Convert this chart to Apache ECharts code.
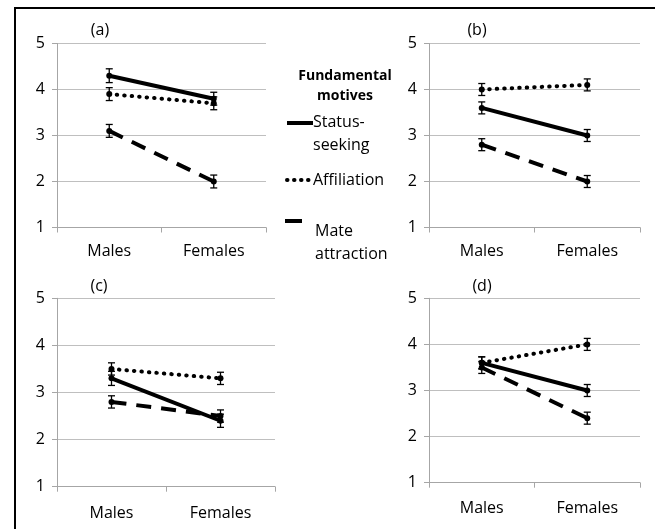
<!DOCTYPE html>
<html>
<head>
<meta charset="utf-8">
<script src="https://cdn.jsdelivr.net/npm/echarts@6/dist/echarts.min.js"></script>
<style>
  html, body { margin: 0; padding: 0; background: #fff; }
  #chart { width: 655px; height: 529px; }
</style>
</head>
<body>
<div id="chart"></div>
<script>
// Categories and panel labels
const categories = ['Males', 'Females'];
const panelTitles = ['(a)', '(b)', '(c)', '(d)'];
const yTicks = [1, 2, 3, 4, 5];

// Fundamental motives (legend labels)
const motiveNames = ['Status-seeking', 'Affiliation', 'Mate attraction'];
const legendLabels = ['Status-\nseeking', 'Affiliation', 'Mate\nattraction'];
const legendTitle = 'Fundamental\nmotives';

// Mean ratings per panel: [Males, Females]
const statusSeeking  = [[4.3, 3.8], [3.6, 3.0], [3.3, 2.4], [3.6, 3.0]];
const affiliation    = [[3.9, 3.7], [4.0, 4.1], [3.5, 3.3], [3.6, 4.0]];
const mateAttraction = [[3.1, 2.0], [2.8, 2.0], [2.8, 2.5], [3.5, 2.4]];

// Standard errors per panel: [Males, Females]
const statusErr      = [[0.15, 0.14], [0.13, 0.13], [0.15, 0.14], [0.13, 0.13]];
const affiliationErr = [[0.14, 0.14], [0.13, 0.13], [0.13, 0.13], [0.13, 0.13]];
const mateErr        = [[0.14, 0.14], [0.13, 0.13], [0.13, 0.13], [0.13, 0.13]];

const FONT = '"Open Sans", "Noto Sans", sans-serif';
const GRID_GRAY = '#bfbfbf';
const AXIS_GRAY = '#a6a6a6';

const grids = [
  { left: 57,  right: 389, top: 43.5,  bottom: 301.5 },
  { left: 429, right: 15,  top: 43.5,  bottom: 301.5 },
  { left: 57,  right: 380, top: 298.3, bottom: 42.3 },
  { left: 429, right: 15,  top: 298.3, bottom: 46.3 }
];
const labelMargins = [16, 16, 19, 18];
const titlePos = [[100, 30], [477, 30], [99, 286], [482, 286]];

const lineStyles = [
  { type: 'solid', width: 4, cap: 'butt' },
  { type: [0.5, 7], width: 4, cap: 'round' },
  { type: [15, 10], width: 4, cap: 'butt' }
];
const seriesValues = [statusSeeking, affiliation, mateAttraction];
const seriesErrors = [statusErr, affiliationErr, mateErr];

const xAxes = [], yAxes = [], series = [], graphics = [];

grids.forEach((g, p) => {
  xAxes.push({
    type: 'category', gridIndex: p, data: categories, boundaryGap: true,
    axisLine: { lineStyle: { color: AXIS_GRAY, width: 1 } },
    axisTick: { show: true, length: 5, lineStyle: { color: AXIS_GRAY } },
    axisLabel: { color: '#000', fontSize: 16, fontFamily: FONT, margin: labelMargins[p] }
  });
  yAxes.push({
    type: 'value', gridIndex: p, min: yTicks[0], max: yTicks[yTicks.length - 1], interval: 1,
    axisLine: { show: true, lineStyle: { color: AXIS_GRAY, width: 1 } },
    axisTick: { show: true, length: 5, lineStyle: { color: AXIS_GRAY } },
    splitLine: { show: true, lineStyle: { color: GRID_GRAY, width: 1 } },
    axisLabel: { color: '#000', fontSize: 16, fontFamily: FONT, margin: 12 }
  });

  seriesValues.forEach((vals, s) => {
    series.push({
      name: motiveNames[s], type: 'line', xAxisIndex: p, yAxisIndex: p,
      data: vals[p],
      symbol: 'circle', symbolSize: 6, showSymbol: true,
      itemStyle: { color: '#000' },
      lineStyle: Object.assign({ color: '#000' }, lineStyles[s]),
      z: 3, silent: true
    });
    series.push({
      name: motiveNames[s] + ' SE', type: 'custom', xAxisIndex: p, yAxisIndex: p,
      data: vals[p].map((v, i) => [i, v, seriesErrors[s][p][i]]),
      encode: { x: 0, y: 1 },
      z: 4, silent: true,
      renderItem: function (params, api) {
        const x = api.value(0), y = api.value(1), e = api.value(2);
        const top = api.coord([x, y + e]);
        const bot = api.coord([x, y - e]);
        const hw = 3.5;
        const st = { stroke: '#000', lineWidth: 1.3 };
        return {
          type: 'group',
          children: [
            { type: 'line', shape: { x1: top[0], y1: top[1], x2: bot[0], y2: bot[1] }, style: st },
            { type: 'line', shape: { x1: top[0] - hw, y1: top[1], x2: top[0] + hw, y2: top[1] }, style: st },
            { type: 'line', shape: { x1: bot[0] - hw, y1: bot[1], x2: bot[0] + hw, y2: bot[1] }, style: st }
          ]
        };
      }
    });
  });

  graphics.push({
    type: 'text', x: titlePos[p][0], y: titlePos[p][1],
    style: { text: panelTitles[p], fill: '#000', font: '16px ' + FONT, textAlign: 'center', textVerticalAlign: 'middle' }
  });
});

// Outer frame
graphics.push({
  type: 'rect', shape: { x: 15, y: 8, width: 700, height: 600 },
  style: { fill: 'none', stroke: '#000', lineWidth: 2 }, z: 10
});

// Legend block
graphics.push({
  type: 'text', x: 345, y: 66,
  style: { text: legendTitle, fill: '#000', font: 'bold 14px ' + FONT, textAlign: 'center', lineHeight: 20 }
});
const legendRows = [
  { y: 123, x1: 287, x2: 313, tx: 313, ty: 111 },
  { y: 180, x1: 287, x2: 313, tx: 313, ty: 169 },
  { y: 221, x1: 285, x2: 302, tx: 315, ty: 220 }
];
legendRows.forEach((r, s) => {
  graphics.push({
    type: 'line', shape: { x1: r.x1, y1: r.y, x2: r.x2, y2: r.y },
    style: { stroke: '#000', lineWidth: 4, lineDash: s === 1 ? [0.5, 6.5] : null, lineCap: s === 1 ? 'round' : 'butt' }
  });
  graphics.push({
    type: 'text', x: r.tx, y: r.ty,
    style: { text: legendLabels[s], fill: '#000', font: '16px ' + FONT, lineHeight: 23 }
  });
});

const chart = echarts.init(document.getElementById('chart'), null, { renderer: 'canvas' });
chart.setOption({
  animation: false,
  backgroundColor: '#fff',
  grid: grids,
  xAxis: xAxes,
  yAxis: yAxes,
  series: series,
  graphic: graphics
});
</script>
</body>
</html>
